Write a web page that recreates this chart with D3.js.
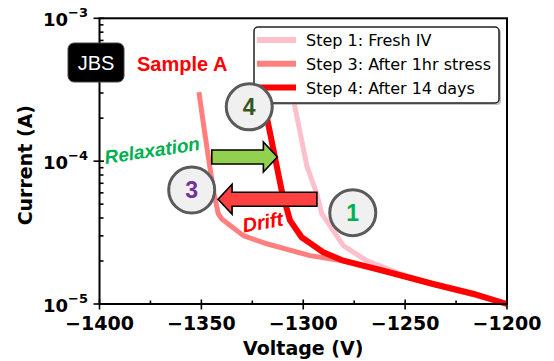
<!DOCTYPE html>
<html>
<head>
<meta charset="utf-8">
<script src="https://cdn.jsdelivr.net/npm/d3@7"></script>
<style>
  html, body { margin: 0; padding: 0; background: #fff; }
  svg { display: block; }
</style>
</head>
<body>
<svg id="chart" width="554" height="361"></svg>
<script>
// Reverse-bias IV sweeps of the JBS diode, Sample A
const voltageTicks = [-1400, -1350, -1300, -1250, -1200];
const currentTicks = [1e-5, 1e-4, 1e-3];
const currentTickLabels = ["\u22125", "\u22124", "\u22123"];

const seriesNames = ["Step 1: Fresh IV", "Step 3: After 1hr stress", "Step 4: After 14 days"];
const seriesColors = ["#ffc0cb", "#ff7f7f", "#ff0000"];
const seriesWidths = [5, 5, 6];

const freshV = [-1305.5, -1304.1, -1298.3, -1293.4, -1290.9, -1280.3, -1268.9, -1252.5, -1232.9, -1215.7, -1200];
const freshI = [3.04e-4, 2.40e-4, 9.35e-5, 5.92e-5, 4.29e-5, 2.56e-5, 2.01e-5, 1.63e-5, 1.34e-5, 1.15e-5, 1.0e-5];

const stressV = [-1351.2, -1349.0, -1346.6, -1343.8, -1341.7, -1340.0, -1329.4, -1317.9, -1296.7, -1280, -1260, -1236, -1216.7, -1200];
const stressI = [3.04e-4, 1.83e-4, 1.07e-4, 5.92e-5, 4.29e-5, 3.94e-5, 3.01e-5, 2.64e-5, 2.18e-5, 2.00e-5, 1.70e-5, 1.37e-5, 1.17e-5, 1.0e-5];

const daysV = [-1320.5, -1317.9, -1310.6, -1306.5, -1300.8, -1290.2, -1280.3, -1260.7, -1236.2, -1216.7, -1200];
const daysI = [3.04e-4, 2.04e-4, 6.24e-5, 3.85e-5, 2.93e-5, 2.30e-5, 2.01e-5, 1.71e-5, 1.38e-5, 1.18e-5, 1.0e-5];

// Step markers (label, voltage, current, colour)
const stepLabels = ["4", "3", "1"];
const stepV = [-1326.5, -1354.75, -1275.7];
const stepI = [2.40e-4, 6.28e-5, 4.36e-5];
const stepColors = ["#375623", "#7030a0", "#00b050"];

const series = [
  { v: freshV, i: freshI },
  { v: stressV, i: stressI },
  { v: daysV, i: daysI }
].map((s, k) => ({ ...s, name: seriesNames[k], color: seriesColors[k], width: seriesWidths[k] }));

const svg = d3.select("#chart");
const plot = { left: 99.5, right: 507, top: 18.3, bottom: 304 };

const x = d3.scaleLinear().domain([-1400, -1200]).range([plot.left, plot.right]);
const y = d3.scaleLog().domain([1e-5, 1e-3]).range([plot.bottom, plot.top]);

// Curves
const line = d3.line().x(d => x(d[0])).y(d => y(d[1]));
svg.append("g").selectAll("path")
  .data(series)
  .join("path")
  .attr("d", s => line(s.v.map((v, k) => [v, s.i[k]])))
  .attr("fill", "none")
  .attr("stroke", s => s.color)
  .attr("stroke-width", s => s.width)
  .attr("stroke-linejoin", "round");

// Frame
svg.append("rect")
  .attr("x", plot.left).attr("y", plot.top)
  .attr("width", plot.right - plot.left).attr("height", plot.bottom - plot.top)
  .attr("fill", "none").attr("stroke", "#000").attr("stroke-width", 2);

// X axis ticks
const xMinor = d3.range(-1375, -1200, 50);
const axisG = svg.append("g").attr("stroke", "#000").attr("stroke-width", 1.6);
axisG.selectAll(".xmaj").data(voltageTicks).join("line")
  .attr("x1", d => x(d)).attr("x2", d => x(d))
  .attr("y1", plot.bottom - 4.5).attr("y2", plot.bottom + 5.5);
axisG.selectAll(".xmin").data(xMinor).join("line")
  .attr("x1", d => x(d)).attr("x2", d => x(d))
  .attr("y1", plot.bottom - 3.5).attr("y2", plot.bottom);

// Y axis ticks
const yMinor = [];
[1e-5, 1e-4].forEach(dec => { for (let m = 2; m <= 9; m++) yMinor.push(m * dec); });
axisG.selectAll(".ymaj").data(currentTicks).join("line")
  .attr("x1", plot.left - 6).attr("x2", plot.left + 4.5)
  .attr("y1", d => y(d)).attr("y2", d => y(d));
axisG.selectAll(".ymin").data(yMinor).join("line")
  .attr("x1", plot.left).attr("x2", plot.left + 4)
  .attr("y1", d => y(d)).attr("y2", d => y(d));

// X tick labels
svg.append("g").selectAll("text").data(voltageTicks).join("text")
  .attr("x", d => x(d)).attr("y", 330)
  .attr("text-anchor", "middle")
  .attr("font-family", "DejaVu Sans").attr("font-weight", "bold").attr("font-size", 19)
  .text(d => "\u2212" + Math.abs(d));

// Y tick labels (10 with superscript exponent)
const yl = svg.append("g").selectAll("text").data(currentTicks).join("text")
  .attr("x", 88).attr("y", d => y(d) + 7.5)
  .attr("text-anchor", "end")
  .attr("font-family", "DejaVu Sans").attr("font-weight", "bold");
yl.append("tspan").attr("font-size", 18).text("10");
yl.append("tspan").attr("font-size", 13).attr("dy", -9).text((d, k) => currentTickLabels[k]);

// Axis titles
svg.append("text")
  .attr("x", (plot.left + plot.right) / 2).attr("y", 355)
  .attr("text-anchor", "middle")
  .attr("font-family", "DejaVu Sans").attr("font-weight", "bold").attr("font-size", 19)
  .text("Voltage (V)");
svg.append("text")
  .attr("transform", `translate(31.5,${(plot.top + plot.bottom) / 2 + 4}) rotate(-90)`)
  .attr("text-anchor", "middle")
  .attr("font-family", "DejaVu Sans").attr("font-weight", "bold").attr("font-size", 19)
  .text("Current (A)");

// Legend
const lg = svg.append("g");
lg.append("rect").attr("x", 256).attr("y", 29).attr("width", 245).attr("height", 76)
  .attr("rx", 4).attr("fill", "#999").attr("opacity", 0.6);
lg.append("rect").attr("x", 254).attr("y", 27).attr("width", 245).attr("height", 76)
  .attr("rx", 4).attr("fill", "#fff").attr("stroke", "#222").attr("stroke-width", 1.5);
const rows = lg.selectAll("g.row").data(series).join("g")
  .attr("transform", (d, k) => `translate(0,${40 + k * 23.8})`);
rows.append("line").attr("x1", 257).attr("x2", 296).attr("y1", 0).attr("y2", 0)
  .attr("stroke", d => d.color).attr("stroke-width", 6);
rows.append("text").attr("x", 306).attr("y", 6)
  .attr("font-family", "DejaVu Sans").attr("font-size", 16)
  .text(d => d.name);

// Arrows (shaft half-height 7, head half-height 15, head length 14)
function arrowPath(x0, x1, yc) {
  const dir = Math.sign(x1 - x0);
  const hb = x1 - dir * 14;
  return `M${x0},${yc - 7}L${hb},${yc - 7}L${hb},${yc - 15}L${x1},${yc}L${hb},${yc + 15}L${hb},${yc + 7}L${x0},${yc + 7}Z`;
}
svg.append("path")
  .attr("d", arrowPath(x(-1344.9), x(-1312.7), y(1.07e-4)))
  .attr("fill", "#92d050").attr("stroke", "#000").attr("stroke-width", 1.6);
svg.append("path")
  .attr("d", arrowPath(x(-1293.3), x(-1341.8), y(5.41e-5)))
  .attr("fill", "#ff4040").attr("stroke", "#000").attr("stroke-width", 1.6);

// Step markers
const mk = svg.append("g").selectAll("g").data(stepLabels).join("g")
  .attr("transform", (d, k) => `translate(${x(stepV[k])},${y(stepI[k])})`);
mk.append("circle").attr("r", 23).attr("fill", "#f0f0f0").attr("stroke", "#5a5a5a").attr("stroke-width", 3);
mk.append("text").attr("text-anchor", "middle").attr("dy", 8)
  .attr("font-family", "Liberation Sans").attr("font-weight", "bold").attr("font-size", 23)
  .attr("fill", (d, k) => stepColors[k]).text(d => d);

// Process annotations
svg.append("text")
  .attr("transform", `translate(${x(-1373.7)},${y(1.18e-4) + 6}) rotate(-8.5)`)
  .attr("text-anchor", "middle")
  .attr("font-family", "Liberation Sans").attr("font-weight", "bold").attr("font-style", "italic")
  .attr("font-size", 19).attr("fill", "#00b050")
  .text("Relaxation");
svg.append("text")
  .attr("transform", `translate(${x(-1319.3)},${y(3.75e-5) + 7}) rotate(-10)`)
  .attr("text-anchor", "middle")
  .attr("font-family", "Liberation Sans").attr("font-weight", "bold").attr("font-style", "italic")
  .attr("font-size", 20).attr("fill", "#ff0000")
  .text("Drift");

// Device badge and sample name
svg.append("rect").attr("x", 68).attr("y", 43).attr("width", 56).attr("height", 39)
  .attr("rx", 6).attr("fill", "#000").attr("stroke", "#444").attr("stroke-width", 1);
svg.append("text").attr("x", 96).attr("y", 70).attr("text-anchor", "middle")
  .attr("font-family", "Liberation Sans").attr("font-size", 20).attr("fill", "#fff")
  .text("JBS");
svg.append("text").attr("x", 137).attr("y", 71)
  .attr("font-family", "Liberation Sans").attr("font-weight", "bold").attr("font-size", 20)
  .attr("fill", "#ff0000")
  .text("Sample A");
</script>
</body>
</html>
